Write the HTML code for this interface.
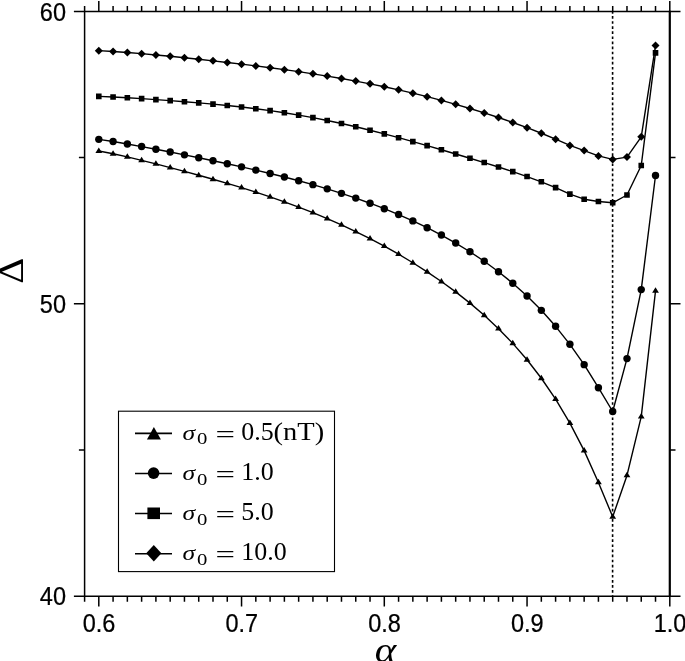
<!DOCTYPE html>
<html><head><meta charset="utf-8"><title>plot</title>
<style>html,body{margin:0;padding:0;background:#fff;overflow:hidden}svg{display:block}</style>
</head><body>
<svg width="685" height="661" viewBox="0 0 685 661">
<rect width="685" height="661" fill="#fff"/>
<g stroke="#000" stroke-width="1.5" fill="none" stroke-linecap="butt">
<path d="M84.6 5.9V601.8"/>
<path d="M73.89999999999999 11.4H669.8"/>
<path d="M73.89999999999999 596.3H669.8"/>
<path d="M98.8 11.4v-10.3M98.8 596.3v10.3M113.08 11.4v-5.5M113.08 596.3v5.5M127.35 11.4v-5.5M127.35 596.3v5.5M141.62 11.4v-5.5M141.62 596.3v5.5M155.9 11.4v-5.5M155.9 596.3v5.5M170.18 11.4v-5.5M170.18 596.3v5.5M184.45 11.4v-5.5M184.45 596.3v5.5M198.72 11.4v-5.5M198.72 596.3v5.5M213 11.4v-5.5M213 596.3v5.5M227.27 11.4v-5.5M227.27 596.3v5.5M241.55 11.4v-10.3M241.55 596.3v10.3M255.82 11.4v-5.5M255.82 596.3v5.5M270.1 11.4v-5.5M270.1 596.3v5.5M284.38 11.4v-5.5M284.38 596.3v5.5M298.65 11.4v-5.5M298.65 596.3v5.5M312.93 11.4v-5.5M312.93 596.3v5.5M327.2 11.4v-5.5M327.2 596.3v5.5M341.48 11.4v-5.5M341.48 596.3v5.5M355.75 11.4v-5.5M355.75 596.3v5.5M370.03 11.4v-5.5M370.03 596.3v5.5M384.3 11.4v-10.3M384.3 596.3v10.3M398.58 11.4v-5.5M398.58 596.3v5.5M412.85 11.4v-5.5M412.85 596.3v5.5M427.12 11.4v-5.5M427.12 596.3v5.5M441.4 11.4v-5.5M441.4 596.3v5.5M455.68 11.4v-5.5M455.68 596.3v5.5M469.95 11.4v-5.5M469.95 596.3v5.5M484.23 11.4v-5.5M484.23 596.3v5.5M498.5 11.4v-5.5M498.5 596.3v5.5M512.77 11.4v-5.5M512.77 596.3v5.5M527.05 11.4v-10.3M527.05 596.3v10.3M541.33 11.4v-5.5M541.33 596.3v5.5M555.6 11.4v-5.5M555.6 596.3v5.5M569.88 11.4v-5.5M569.88 596.3v5.5M584.15 11.4v-5.5M584.15 596.3v5.5M598.42 11.4v-5.5M598.42 596.3v5.5M612.7 11.4v-5.5M612.7 596.3v5.5M626.98 11.4v-5.5M626.98 596.3v5.5M641.25 11.4v-5.5M641.25 596.3v5.5M655.52 11.4v-5.5M655.52 596.3v5.5M669.8 11.4v-10.3M669.8 596.3v10.3"/>
<path d="M669.8 596.3h10.7M84.6 450.07h-5.7M669.8 450.07h5.7M84.6 303.85h-10.7M669.8 303.85h10.7M84.6 157.62h-5.7M669.8 157.62h5.7M669.8 11.4h10.7"/>
</g>
<path d="M669.8 10.8V596.9" stroke="#000" stroke-width="2.2" fill="none"/>
<path d="M612.6 11V596.3" stroke="#000" stroke-width="1.6" stroke-dasharray="2.7 2.38" fill="none"/>
<g stroke="#000" stroke-width="1.4" fill="none" stroke-linejoin="round">
<path d="M98.8 50.65L113.08 51.46L127.35 52.47L141.62 53.65L155.9 54.93L170.18 56.31L184.45 57.76L198.72 59.27L213 60.84L227.27 62.46L241.55 64.14L255.82 65.9L270.1 67.73L284.38 69.65L298.65 71.68L312.93 73.83L327.2 76.1L341.48 78.52L355.75 81.1L370.03 83.84L384.3 86.76L398.58 89.86L412.85 93.16L427.12 96.67L441.4 100.38L455.68 104.31L469.95 108.48L484.23 112.88L498.5 117.54L512.77 122.47L527.05 127.7L541.33 133.24L555.6 139.13L569.88 145.41L584.15 150.6L598.42 155.9L612.7 159.4L626.98 157.1L641.25 136.8L655.52 45.6"/>
<path d="M98.8 96.35L113.08 96.95L127.35 97.73L141.62 98.63L155.9 99.6L170.18 100.63L184.45 101.73L198.72 102.9L213 104.16L227.27 105.54L241.55 107.06L255.82 108.75L270.1 110.64L284.38 112.75L298.65 115.08L312.93 117.65L327.2 120.46L341.48 123.51L355.75 126.77L370.03 130.23L384.3 133.88L398.58 137.68L412.85 141.61L427.12 145.65L441.4 149.77L455.68 153.96L469.95 158.22L484.23 162.57L498.5 167.03L512.77 171.66L527.05 176.54L541.33 181.81L555.6 187.61L569.88 194.17L584.15 199.2L598.42 201.5L612.7 202.8L626.98 195L641.25 165.5L655.52 52.9"/>
<path d="M98.8 139.33L113.08 141.55L127.35 143.98L141.62 146.57L155.9 149.26L170.18 152.03L184.45 154.86L198.72 157.75L213 160.7L227.27 163.72L241.55 166.84L255.82 170.08L270.1 173.45L284.38 176.99L298.65 180.72L312.93 184.67L327.2 188.87L341.48 193.34L355.75 198.11L370.03 203.22L384.3 208.69L398.58 214.56L412.85 220.88L427.12 227.69L441.4 235.06L455.68 243.05L469.95 251.75L484.23 261.26L498.5 271.71L512.77 283.25L527.05 296.05L541.33 310.33L555.6 326.32L569.88 344.32L584.15 364.66L598.42 387.74L612.7 411.5L626.98 358.6L641.25 289.6L655.52 175.5"/>
<path d="M98.8 151.06L113.08 153.8L127.35 156.93L141.62 160.32L155.9 163.89L170.18 167.58L184.45 171.38L198.72 175.26L213 179.26L227.27 183.38L241.55 187.66L255.82 192.14L270.1 196.83L284.38 201.79L298.65 207.04L312.93 212.62L327.2 218.54L341.48 224.84L355.75 231.53L370.03 238.64L384.3 246.18L398.58 254.2L412.85 262.73L427.12 271.8L441.4 281.5L455.68 291.9L469.95 303.12L484.23 315.3L498.5 328.65L512.77 343.38L527.05 359.79L541.33 378.25L555.6 399.18L569.88 423.09L584.15 450.61L598.42 482.45L612.7 516.8L626.98 475.4L641.25 416.6L655.52 290.8"/>
</g>
<g fill="#000">
<path d="M98.8 46.65L102.8 50.65L98.8 54.65L94.8 50.65ZM113.08 47.46L117.08 51.46L113.08 55.46L109.08 51.46ZM127.35 48.47L131.35 52.47L127.35 56.47L123.35 52.47ZM141.62 49.65L145.62 53.65L141.62 57.65L137.62 53.65ZM155.9 50.93L159.9 54.93L155.9 58.93L151.9 54.93ZM170.18 52.31L174.18 56.31L170.18 60.31L166.18 56.31ZM184.45 53.76L188.45 57.76L184.45 61.76L180.45 57.76ZM198.72 55.27L202.72 59.27L198.72 63.27L194.72 59.27ZM213 56.84L217 60.84L213 64.84L209 60.84ZM227.27 58.46L231.27 62.46L227.27 66.46L223.27 62.46ZM241.55 60.14L245.55 64.14L241.55 68.14L237.55 64.14ZM255.82 61.9L259.82 65.9L255.82 69.9L251.82 65.9ZM270.1 63.73L274.1 67.73L270.1 71.73L266.1 67.73ZM284.38 65.65L288.38 69.65L284.38 73.65L280.38 69.65ZM298.65 67.68L302.65 71.68L298.65 75.68L294.65 71.68ZM312.93 69.83L316.93 73.83L312.93 77.83L308.93 73.83ZM327.2 72.1L331.2 76.1L327.2 80.1L323.2 76.1ZM341.48 74.52L345.48 78.52L341.48 82.52L337.48 78.52ZM355.75 77.1L359.75 81.1L355.75 85.1L351.75 81.1ZM370.03 79.84L374.03 83.84L370.03 87.84L366.03 83.84ZM384.3 82.76L388.3 86.76L384.3 90.76L380.3 86.76ZM398.58 85.86L402.58 89.86L398.58 93.86L394.58 89.86ZM412.85 89.16L416.85 93.16L412.85 97.16L408.85 93.16ZM427.12 92.67L431.12 96.67L427.12 100.67L423.12 96.67ZM441.4 96.38L445.4 100.38L441.4 104.38L437.4 100.38ZM455.68 100.31L459.68 104.31L455.68 108.31L451.68 104.31ZM469.95 104.48L473.95 108.48L469.95 112.48L465.95 108.48ZM484.23 108.88L488.23 112.88L484.23 116.88L480.23 112.88ZM498.5 113.54L502.5 117.54L498.5 121.54L494.5 117.54ZM512.77 118.47L516.77 122.47L512.77 126.47L508.77 122.47ZM527.05 123.7L531.05 127.7L527.05 131.7L523.05 127.7ZM541.33 129.24L545.33 133.24L541.33 137.24L537.33 133.24ZM555.6 135.13L559.6 139.13L555.6 143.13L551.6 139.13ZM569.88 141.41L573.88 145.41L569.88 149.41L565.88 145.41ZM584.15 146.6L588.15 150.6L584.15 154.6L580.15 150.6ZM598.42 151.9L602.42 155.9L598.42 159.9L594.42 155.9ZM612.7 155.4L616.7 159.4L612.7 163.4L608.7 159.4ZM626.98 153.1L630.98 157.1L626.98 161.1L622.98 157.1ZM641.25 132.8L645.25 136.8L641.25 140.8L637.25 136.8ZM655.52 41.6L659.52 45.6L655.52 49.6L651.52 45.6Z"/>
<path d="M96 93.55h5.6v5.6h-5.6ZM110.28 94.15h5.6v5.6h-5.6ZM124.55 94.93h5.6v5.6h-5.6ZM138.82 95.83h5.6v5.6h-5.6ZM153.1 96.8h5.6v5.6h-5.6ZM167.38 97.83h5.6v5.6h-5.6ZM181.65 98.93h5.6v5.6h-5.6ZM195.92 100.1h5.6v5.6h-5.6ZM210.2 101.36h5.6v5.6h-5.6ZM224.47 102.74h5.6v5.6h-5.6ZM238.75 104.26h5.6v5.6h-5.6ZM253.02 105.95h5.6v5.6h-5.6ZM267.3 107.84h5.6v5.6h-5.6ZM281.57 109.95h5.6v5.6h-5.6ZM295.85 112.28h5.6v5.6h-5.6ZM310.12 114.85h5.6v5.6h-5.6ZM324.4 117.66h5.6v5.6h-5.6ZM338.68 120.71h5.6v5.6h-5.6ZM352.95 123.97h5.6v5.6h-5.6ZM367.23 127.43h5.6v5.6h-5.6ZM381.5 131.08h5.6v5.6h-5.6ZM395.78 134.88h5.6v5.6h-5.6ZM410.05 138.81h5.6v5.6h-5.6ZM424.32 142.85h5.6v5.6h-5.6ZM438.6 146.97h5.6v5.6h-5.6ZM452.88 151.16h5.6v5.6h-5.6ZM467.15 155.42h5.6v5.6h-5.6ZM481.43 159.77h5.6v5.6h-5.6ZM495.7 164.23h5.6v5.6h-5.6ZM509.97 168.86h5.6v5.6h-5.6ZM524.25 173.74h5.6v5.6h-5.6ZM538.53 179.01h5.6v5.6h-5.6ZM552.8 184.81h5.6v5.6h-5.6ZM567.08 191.37h5.6v5.6h-5.6ZM581.35 196.4h5.6v5.6h-5.6ZM595.62 198.7h5.6v5.6h-5.6ZM609.9 200h5.6v5.6h-5.6ZM624.18 192.2h5.6v5.6h-5.6ZM638.45 162.7h5.6v5.6h-5.6ZM652.73 50.1h5.6v5.6h-5.6Z"/>
<circle cx="98.8" cy="139.33" r="3.7"/>
<circle cx="113.08" cy="141.55" r="3.7"/>
<circle cx="127.35" cy="143.98" r="3.7"/>
<circle cx="141.62" cy="146.57" r="3.7"/>
<circle cx="155.9" cy="149.26" r="3.7"/>
<circle cx="170.18" cy="152.03" r="3.7"/>
<circle cx="184.45" cy="154.86" r="3.7"/>
<circle cx="198.72" cy="157.75" r="3.7"/>
<circle cx="213" cy="160.7" r="3.7"/>
<circle cx="227.27" cy="163.72" r="3.7"/>
<circle cx="241.55" cy="166.84" r="3.7"/>
<circle cx="255.82" cy="170.08" r="3.7"/>
<circle cx="270.1" cy="173.45" r="3.7"/>
<circle cx="284.38" cy="176.99" r="3.7"/>
<circle cx="298.65" cy="180.72" r="3.7"/>
<circle cx="312.93" cy="184.67" r="3.7"/>
<circle cx="327.2" cy="188.87" r="3.7"/>
<circle cx="341.48" cy="193.34" r="3.7"/>
<circle cx="355.75" cy="198.11" r="3.7"/>
<circle cx="370.03" cy="203.22" r="3.7"/>
<circle cx="384.3" cy="208.69" r="3.7"/>
<circle cx="398.58" cy="214.56" r="3.7"/>
<circle cx="412.85" cy="220.88" r="3.7"/>
<circle cx="427.12" cy="227.69" r="3.7"/>
<circle cx="441.4" cy="235.06" r="3.7"/>
<circle cx="455.68" cy="243.05" r="3.7"/>
<circle cx="469.95" cy="251.75" r="3.7"/>
<circle cx="484.23" cy="261.26" r="3.7"/>
<circle cx="498.5" cy="271.71" r="3.7"/>
<circle cx="512.77" cy="283.25" r="3.7"/>
<circle cx="527.05" cy="296.05" r="3.7"/>
<circle cx="541.33" cy="310.33" r="3.7"/>
<circle cx="555.6" cy="326.32" r="3.7"/>
<circle cx="569.88" cy="344.32" r="3.7"/>
<circle cx="584.15" cy="364.66" r="3.7"/>
<circle cx="598.42" cy="387.74" r="3.7"/>
<circle cx="612.7" cy="411.5" r="3.7"/>
<circle cx="626.98" cy="358.6" r="3.7"/>
<circle cx="641.25" cy="289.6" r="3.7"/>
<circle cx="655.52" cy="175.5" r="3.7"/>
<path d="M98.8 147.46L102.2 152.96H95.4ZM113.08 150.2L116.48 155.7H109.67ZM127.35 153.33L130.75 158.83H123.95ZM141.62 156.72L145.03 162.22H138.22ZM155.9 160.29L159.3 165.79H152.5ZM170.18 163.98L173.58 169.48H166.78ZM184.45 167.78L187.85 173.28H181.05ZM198.72 171.66L202.12 177.16H195.32ZM213 175.66L216.4 181.16H209.6ZM227.27 179.78L230.67 185.28H223.87ZM241.55 184.06L244.95 189.56H238.15ZM255.82 188.54L259.22 194.04H252.42ZM270.1 193.23L273.5 198.73H266.7ZM284.38 198.19L287.77 203.69H280.98ZM298.65 203.44L302.05 208.94H295.25ZM312.93 209.02L316.32 214.52H309.53ZM327.2 214.94L330.6 220.44H323.8ZM341.48 221.24L344.88 226.74H338.08ZM355.75 227.93L359.15 233.43H352.35ZM370.03 235.04L373.43 240.54H366.63ZM384.3 242.58L387.7 248.08H380.9ZM398.58 250.6L401.98 256.1H395.18ZM412.85 259.13L416.25 264.63H409.45ZM427.12 268.2L430.52 273.7H423.73ZM441.4 277.9L444.8 283.4H438ZM455.68 288.3L459.07 293.8H452.28ZM469.95 299.52L473.35 305.02H466.55ZM484.23 311.7L487.62 317.2H480.83ZM498.5 325.05L501.9 330.55H495.1ZM512.77 339.78L516.17 345.28H509.38ZM527.05 356.19L530.45 361.69H523.65ZM541.33 374.65L544.73 380.15H537.93ZM555.6 395.58L559 401.08H552.2ZM569.88 419.49L573.27 424.99H566.48ZM584.15 447.01L587.55 452.51H580.75ZM598.42 478.85L601.82 484.35H595.02ZM612.7 513.2L616.1 518.7H609.3ZM626.98 471.8L630.38 477.3H623.58ZM641.25 413L644.65 418.5H637.85ZM655.52 287.2L658.92 292.7H652.12Z"/>
</g>
<rect x="118.5" y="411.2" width="216" height="160.4" fill="#fff" stroke="#000" stroke-width="1.1"/>
<g stroke="#000" stroke-width="1.6">
<path d="M135 433.4H172"/>
<path d="M135 473.5H172"/>
<path d="M135 513.5H172"/>
<path d="M135 553.7H172"/>
</g>
<g fill="#000">
<path d="M153.9 427.1L160.9 439.5H146.9Z"/>
<circle cx="153.6" cy="473.1" r="5.8"/>
<rect x="147.4" y="507.5" width="12.6" height="11.6"/>
<path d="M153.8 545.0L161.4 553.3L153.8 561.5999999999999L146.2 553.3Z"/>
</g>
<g font-family="'Liberation Serif', 'DejaVu Serif', serif" font-size="24.5px" fill="#000">
<text transform="translate(182.4 439.9) scale(1.19 1)" font-size="21.5px" font-style="italic">σ</text>
<text transform="translate(196.9 444.4) scale(1.22 1)" font-size="17px">0</text>
<text transform="translate(215.4 441.7) scale(1.44 1)" font-size="24px">=</text>
<text transform="translate(241.2 440.1) scale(1.06 1)">0.5</text>
<text transform="translate(182.4 480) scale(1.19 1)" font-size="21.5px" font-style="italic">σ</text>
<text transform="translate(196.9 484.5) scale(1.22 1)" font-size="17px">0</text>
<text transform="translate(215.4 481.8) scale(1.44 1)" font-size="24px">=</text>
<text transform="translate(241.2 480.2) scale(1.06 1)">1.0</text>
<text transform="translate(182.4 520) scale(1.19 1)" font-size="21.5px" font-style="italic">σ</text>
<text transform="translate(196.9 524.5) scale(1.22 1)" font-size="17px">0</text>
<text transform="translate(215.4 521.8) scale(1.44 1)" font-size="24px">=</text>
<text transform="translate(241.2 520.2) scale(1.06 1)">5.0</text>
<text transform="translate(182.4 560.2) scale(1.19 1)" font-size="21.5px" font-style="italic">σ</text>
<text transform="translate(196.9 564.7) scale(1.22 1)" font-size="17px">0</text>
<text transform="translate(215.4 562) scale(1.44 1)" font-size="24px">=</text>
<text transform="translate(241.2 560.4) scale(1.06 1)">10.0</text>
<text x="273.6" y="440.1" textLength="50.6" lengthAdjust="spacingAndGlyphs">(nT)</text>
</g>
<g font-family="'Liberation Sans', sans-serif" font-size="25px" fill="#000" stroke="#000" stroke-width="0.25">
<text transform="translate(66 605.4) scale(0.94 1)" text-anchor="end">40</text>
<text transform="translate(66 312.95) scale(0.94 1)" text-anchor="end">50</text>
<text transform="translate(66 20.5) scale(0.94 1)" text-anchor="end">60</text>
<text transform="translate(99.1 632.1) scale(0.94 1)" text-anchor="middle">0.6</text>
<text transform="translate(241.85 632.1) scale(0.94 1)" text-anchor="middle">0.7</text>
<text transform="translate(384.6 632.1) scale(0.94 1)" text-anchor="middle">0.8</text>
<text transform="translate(527.35 632.1) scale(0.94 1)" text-anchor="middle">0.9</text>
<text transform="translate(670.1 632.1) scale(0.94 1)" text-anchor="middle">1.0</text>
</g>
<text transform="translate(385.6 662) scale(1.17 1)" font-family="'Liberation Serif', serif" font-style="italic" font-size="35px" text-anchor="middle">α</text>
<text transform="translate(23 270.7) rotate(-90) scale(1.15 1)" font-family="'Liberation Serif', serif" font-size="35px" text-anchor="middle">Δ</text>
</svg>
</body></html>
